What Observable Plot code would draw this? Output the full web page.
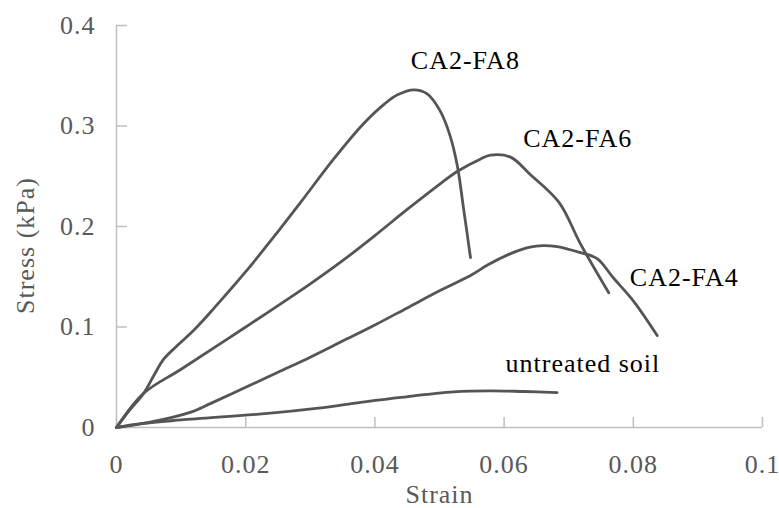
<!DOCTYPE html>
<html>
<head>
<meta charset="utf-8">
<script src="https://cdn.jsdelivr.net/npm/d3@7"></script>
<script src="https://cdn.jsdelivr.net/npm/@observablehq/plot@0.6"></script>
<style>
  html, body { margin: 0; padding: 0; background: #fff; }
  svg text { letter-spacing: 1px; }
</style>
</head>
<body>
<div id="chart"></div>
<script>
// Stress–strain curves of the treated and untreated soil samples
const seriesNames = ["CA2-FA8", "CA2-FA6", "CA2-FA4", "untreated soil"];

const strainFA8 = [0, 0.002, 0.0042, 0.0058, 0.0073, 0.0095, 0.012, 0.015, 0.02, 0.025, 0.0285, 0.0336, 0.0382, 0.0415, 0.0435, 0.046, 0.0481, 0.0501, 0.0517, 0.0528, 0.0537, 0.0548];
const stressFA8 = [0, 0.017, 0.034, 0.052, 0.068, 0.082, 0.097, 0.118, 0.155, 0.195, 0.224, 0.267, 0.302, 0.322, 0.331, 0.336, 0.332, 0.315, 0.289, 0.259, 0.219, 0.169];

const strainFA6 = [0, 0.0042, 0.01, 0.02, 0.03, 0.035, 0.04, 0.045, 0.05, 0.0528, 0.0563, 0.0579, 0.061, 0.064, 0.0685, 0.0718, 0.0762];
const stressFA6 = [0, 0.034, 0.058, 0.100, 0.143, 0.166, 0.191, 0.217, 0.242, 0.255, 0.267, 0.271, 0.269, 0.252, 0.224, 0.183, 0.134];

const strainFA4 = [0, 0.005, 0.0114, 0.0146, 0.02, 0.025, 0.03, 0.035, 0.04, 0.045, 0.05, 0.055, 0.0575, 0.061, 0.064, 0.066, 0.0682, 0.0718, 0.0744, 0.0769, 0.08, 0.0837];
const stressFA4 = [0, 0.005, 0.015, 0.024, 0.040, 0.055, 0.070, 0.086, 0.102, 0.119, 0.136, 0.152, 0.162, 0.173, 0.1795, 0.181, 0.180, 0.174, 0.168, 0.149, 0.126, 0.0915];

const strainSoil = [0, 0.004, 0.01, 0.0234, 0.0309, 0.0378, 0.044, 0.0522, 0.0579, 0.063, 0.0682];
const stressSoil = [0, 0.004, 0.0075, 0.014, 0.019, 0.025, 0.030, 0.0355, 0.0365, 0.0358, 0.0348];

// Tick values
const xTicks = [0, 0.02, 0.04, 0.06, 0.08, 0.1];
const yTicks = [0, 0.1, 0.2, 0.3, 0.4];

// Curve labels, anchored in data coordinates
const labelStrain = [0.054, 0.0714, 0.0879, 0.0722];
const labelStress = [0.357, 0.2796, 0.1403, 0.055];

const strains = [strainFA8, strainFA6, strainFA4, strainSoil];
const stresses = [stressFA8, stressFA6, stressFA4, stressSoil];

const points = seriesNames.flatMap((name, i) =>
  strains[i].map((s, j) => ({series: name, strain: s, stress: stresses[i][j]}))
);
const labels = seriesNames.map((name, i) => ({text: name, strain: labelStrain[i], stress: labelStress[i]}));

const font = "'Liberation Serif', 'Times New Roman', serif";
const axisGray = "#bfbfbf";
const textGray = "#595959";

const chart = Plot.plot({
  width: 779,
  height: 508,
  marginLeft: 116,
  marginRight: 17,
  marginTop: 25,
  marginBottom: 81,
  x: {domain: [0, 0.1]},
  y: {domain: [0, 0.4]},
  style: {fontFamily: font, fontSize: "26px", background: "#fff", color: textGray, overflow: "visible"},
  marks: [
    Plot.ruleY([0], {stroke: axisGray, strokeWidth: 1.5}),
    Plot.ruleX([0], {stroke: axisGray, strokeWidth: 1.5}),
    Plot.axisX(xTicks, {
      tickSize: -10, tickPadding: 37, strokeWidth: 1.5,
      stroke: axisGray, fill: textGray, tickFormat: d => String(d), label: null
    }),
    Plot.axisY(yTicks, {
      tickSize: -11, tickPadding: 32, strokeWidth: 1.5,
      stroke: axisGray, fill: textGray, tickFormat: d => String(d), label: null
    }),
    Plot.line(points, {
      x: "strain", y: "stress", z: "series",
      stroke: "#555", strokeWidth: 2.8, curve: "catmull-rom"
    }),
    Plot.text(labels, {
      x: "strain", y: "stress", text: "text",
      fill: "#000", textAnchor: "middle", lineAnchor: "bottom"
    }),
    Plot.text(["Strain"], {
      frameAnchor: "bottom", dy: 75, lineAnchor: "bottom", fill: textGray
    }),
    Plot.text(["Stress (kPa)"], {
      frameAnchor: "left", rotate: -90, dx: -91, dy: 19,
      textAnchor: "middle", lineAnchor: "middle", fill: textGray
    })
  ]
});

document.getElementById("chart").appendChild(chart);
</script>
</body>
</html>
